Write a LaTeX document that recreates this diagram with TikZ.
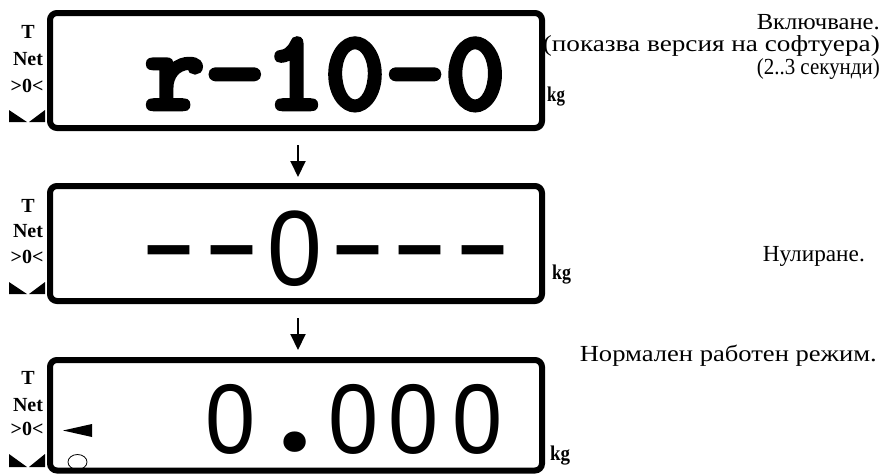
\documentclass[tikz,border=0pt]{standalone}
\usepackage{fontspec}
\setmainfont{Liberation Serif}
\newfontfamily\lcdsans{Liberation Sans}
\newfontfamily\lcddot{Poppins}
\newfontfamily\lcdmono[FakeBold=4]{lmmonolt10-bold.otf}
\usetikzlibrary{arrows.meta}
\begin{document}
\begin{tikzpicture}[x=1pt,y=-1pt]
\useasboundingbox (0,0) rectangle (881,474);
\tikzset{
 lcd/.style={draw, line width=6pt, rounded corners=7pt, minimum width=492pt, inner sep=0pt},
 ind/.style={font=\fontsize{20}{20}\selectfont\bfseries, inner sep=0pt, anchor=base},
 kgl/.style={font=\fontsize{21}{21}\selectfont\bfseries, inner sep=0pt, anchor=base west},
 arr/.style={line width=2pt, -{Triangle[width=15pt,length=16pt]}},
 note/.style={font=\fontsize{23}{22.5}\selectfont, inner sep=0pt, align=right},
 dig/.style={inner sep=0pt, anchor=base}
}
% boxes
\node[lcd, minimum height=115pt] (b1) at (296,70.5) {};
\node[lcd, minimum height=115pt] (b2) at (296,243.5) {};
\node[lcd, minimum height=110.5pt] (b3) at (296,415.25) {};
% arrows
\draw[arr] ([xshift=2pt,yshift=-14pt]b1.south) -- ([xshift=2pt,yshift=6pt]b2.north);
\draw[arr] ([xshift=2pt,yshift=-14pt]b2.south) -- ([xshift=2pt,yshift=7pt]b3.north);
% indicators box 1
\node[ind] (t1) at (28,38) {T};
\node[ind] (n1) at (28,65) {Net};
\node[ind] (z1) at (27,92) {>0<};
\fill (9,110) -- (9,122) -- (27,122) -- cycle;
\fill (29,122) -- (45,122) -- (45,110) -- cycle;
% indicators box 2
\node[ind] (t2) at (28,212) {T};
\node[ind] (n2) at (28,237) {Net};
\node[ind] (z2) at (27,263) {>0<};
\fill (9,282) -- (9,294) -- (27,294) -- cycle;
\fill (29,294) -- (45,294) -- (45,282) -- cycle;
% indicators box 3
\node[ind] (t3) at (28,384) {T};
\node[ind] (n3) at (28,411) {Net};
\node[ind] (z3) at (27,435) {>0<};
\fill (9,454) -- (9,467) -- (27,467) -- cycle;
\fill (29,467) -- (45,467) -- (45,454) -- cycle;
\fill (63,430.5) -- (92,424) -- (92,437) -- cycle;
\draw[line width=0.8pt] (77.5,462) ellipse [x radius=9.5, y radius=7.5];
% kg
\node[kgl] (k1) at (547,101) {\scalebox{0.8}[1]{kg}};
\node[kgl] (k2) at (552,279) {\scalebox{0.85}[1]{kg}};
\node[kgl] (k3) at (550,460) {\scalebox{0.9}[1]{kg}};
% display 1
\node[dig] (d1) at (325,109) {\scalebox{0.97}[0.96]{\fontsize{118}{118}\selectfont\lcdmono r-10-0}};
% display 2
\foreach \x [count=\i] in {169.5,232.5,358.5,420.5,483.5}
  \node[dig] (e\i) at (\x,281) {\scalebox{1.6}[1.1]{\fontsize{107}{107}\selectfont\lcdsans -}};
\node[dig] (e0) at (295,285) {\scalebox{0.92}[1]{\fontsize{107}{107}\selectfont\lcdsans 0}};
% display 3
\foreach \x [count=\i] in {231,354,414,477.5}
  \node[dig] (f\i) at (\x,453) {\scalebox{0.91}[1]{\fontsize{99}{99}\selectfont\lcdsans 0}};
\node[dig] (fp) at (295,451) {\fontsize{110}{110}\selectfont\lcddot\bfseries .};
% notes
\node[note, anchor=north east] (m1) at (880,14) {\resizebox{123pt}{\height}{Включване.}\\\resizebox{337pt}{\height}{(показва версия на софтуера)}\\\resizebox{123pt}{\height}{(2..3 секунди)}};
\node[note, anchor=base east] (m2) at (865,261) {\resizebox{102pt}{\height}{Нулиране.}};
\node[note, anchor=base east] (m3) at (877,361) {\resizebox{297pt}{\height}{Нормален работен режим.}};
\end{tikzpicture}
\end{document}
